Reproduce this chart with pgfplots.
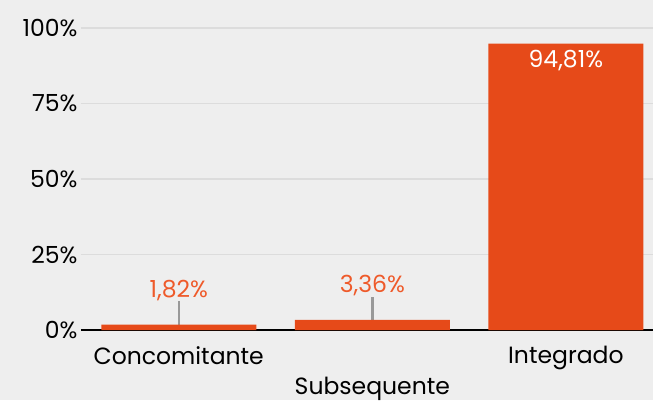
\documentclass[border=0pt]{standalone}
\usepackage{fontspec}
\setmainfont{Poppins}
\usepackage{pgfplots}
\pgfplotsset{compat=1.18}
\definecolor{bg}{HTML}{EEEEEE}
\definecolor{barc}{HTML}{E64A19}
\definecolor{lblc}{HTML}{EE5A2A}
\definecolor{gridc}{HTML}{DCDCDC}
\definecolor{leader}{HTML}{999999}

\begin{document}
\begin{tikzpicture}
  \fill[bg] (-81pt,-70pt) rectangle (572pt,330pt);
  \path[use as bounding box] (-81pt,-70pt) rectangle (572pt,330pt);
  \begin{axis}[
    at={(0,0)}, anchor=south west,
    scale only axis, width=572pt, height=302pt,
    xmin=-0.505, xmax=2.45, ymin=0, ymax=100,
    xtick={0,1,2}, xticklabels={Concomitante,Subsequente,Integrado},
    ytick={0,25,50,75,100},
    yticklabel={\pgfmathprintnumber{\tick}\%},
    /pgf/number format/assume math mode=true,
    font=\fontsize{23.5}{27}\selectfont,
    major tick length=0pt,
    axis x line=bottom, axis y line=left,
    x axis line style={-, black, line width=1.5pt},
    y axis line style={draw=none},
    ymajorgrids, grid style={gridc, line width=1.2pt},
    y tick label style={xshift=0pt},
    x tick label style={yshift={-13pt-mod(\ticknum,2)*31pt}},
    clip=false,
    ]
    % leader lines
    \addplot[ycomb, leader, line width=2.5pt, mark=none,
      nodes near coords, point meta=explicit symbolic,
      every node near coord/.append style={lblc, anchor=base, inner sep=0pt, yshift=4pt}]
      coordinates {(0,9.6) [1,82\%] (1,11.0) [3,36\%]};
    % bars
    \addplot[ybar, bar width=155pt, fill=barc, draw=none]
      coordinates {(0,1.82) (1,3.36) (2,94.81)};
    % inner label
    \addplot[only marks, mark=none, nodes near coords, point meta=explicit symbolic,
      every node near coord/.append style={white, anchor=base, inner sep=0pt, yshift=-24pt}]
      coordinates {(2,94.81) [94,81\%]};
  \end{axis}
\end{tikzpicture}
\end{document}
